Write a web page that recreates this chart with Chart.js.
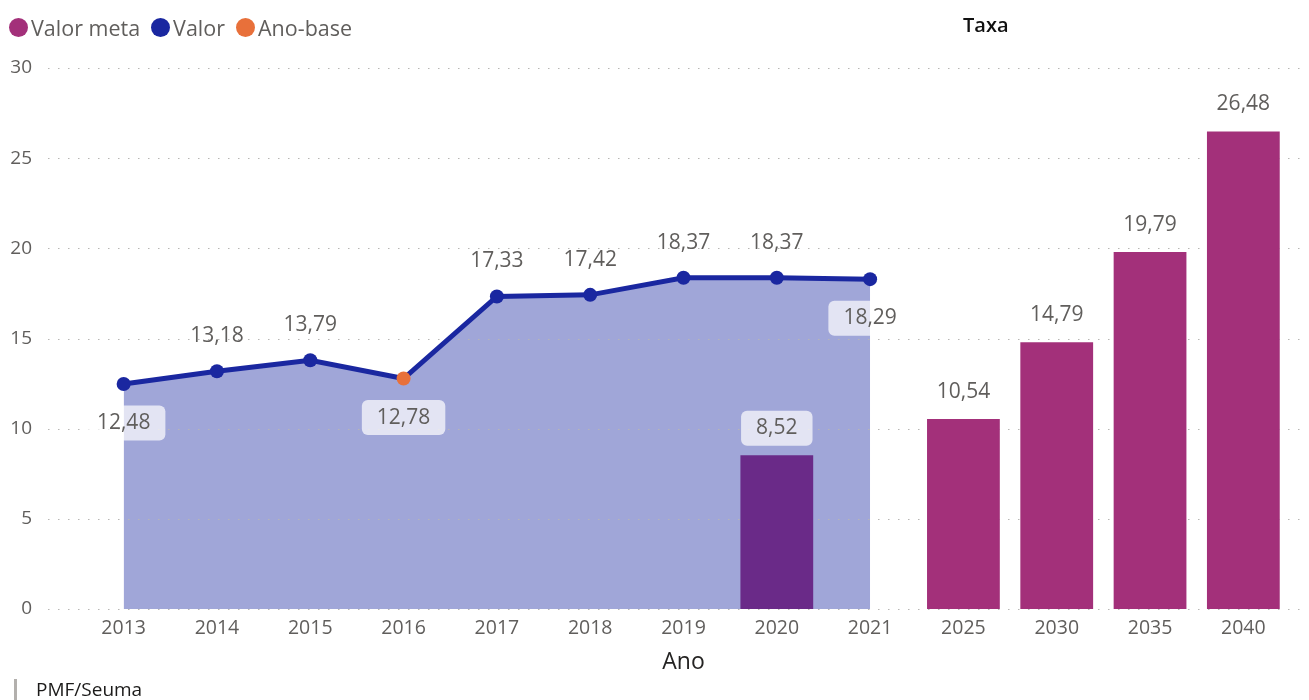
<!DOCTYPE html>
<html>
<head>
<meta charset="utf-8">
<script src="https://cdn.jsdelivr.net/npm/chart.js@4.4.0/dist/chart.umd.min.js"></script>
<style>
  body { margin: 0; background: #fff; font-family: "Open Sans", sans-serif; }
  #wrap { position: relative; width: 1309px; height: 700px; overflow: hidden; }
  #chart { position: absolute; left: 0; top: 0; }
  .legend { position: absolute; left: 9px; top: 13px; font-size: 21.5px; color: #605e5c; display: flex; align-items: center; }
  .legend span.dot { display: inline-block; width: 19px; height: 19px; border-radius: 50%; margin-right: 3px; }
  .legend span.item { margin-right: 11px; display: flex; align-items: center; }
  .title { position: absolute; left: 963px; top: 11px; font-size: 20px; color: #111; font-weight: 600; }
  .footer { position: absolute; left: 14px; top: 679px; height: 21px; border-left: 3px solid #b3b0ad; padding-left: 19px; font-size: 19px; color: #1b1a19; font-weight: 500; line-height: 21px; }
</style>
</head>
<body>
<div id="wrap">
  <canvas id="chart" width="1309" height="700"></canvas>
  <div class="legend">
    <span class="item"><span class="dot" style="background:#a3307a"></span>Valor meta</span>
    <span class="item"><span class="dot" style="background:#1a27a0"></span>Valor</span>
    <span class="item"><span class="dot" style="background:#e8703a"></span>Ano-base</span>
  </div>
  <div class="title">Taxa</div>
  <div class="footer">PMF/Seuma</div>
</div>
<script>
const anos = ["2013", "2014", "2015", "2016", "2017", "2018", "2019", "2020", "2021", "2025", "2030", "2035", "2040"];
const valor = [12.48, 13.18, 13.79, 12.78, 17.33, 17.42, 18.37, 18.37, 18.29, null, null, null, null];
const valorMeta = [null, null, null, null, null, null, null, 8.52, null, 10.54, 14.79, 19.79, 26.48];
const anoBase = "2016";
const yTicks = [0, 5, 10, 15, 20, 25, 30];

const blue = "#1a27a0";
const orange = "#e8703a";
const magenta = "#a3307a";
const purple = "#6a2a88";

function fmt(v) {
  return v.toFixed(2).replace(".", ",");
}

// dotted gridlines running the full width, like the original
const gridPlugin = {
  id: "dotGrid",
  beforeDatasetsDraw(chart) {
    const ctx = chart.ctx;
    const y = chart.scales.y;
    ctx.save();
    ctx.strokeStyle = "#b8b6b4";
    ctx.lineWidth = 1.2;
    ctx.setLineDash([1.5, 8.5]);
    yTicks.forEach(v => {
      const py = Math.round(y.getPixelForValue(v)) + 0.5;
      ctx.beginPath();
      ctx.moveTo(48, py);
      ctx.lineTo(1305, py);
      ctx.stroke();
    });
    ctx.restore();
  }
};

// labels under the point with a pale box: 2013, 2016, 2021
const labelBelow = ["2013", "2016", "2021"];

function drawLabel(ctx, text, x, y, boxed) {
  ctx.font = "21px 'Open Sans', sans-serif";
  ctx.textAlign = "center";
  ctx.textBaseline = "middle";
  if (boxed) {
    const w = ctx.measureText(text).width + 30;
    const h = 35;
    ctx.fillStyle = "rgba(255,255,255,0.7)";
    ctx.beginPath();
    ctx.roundRect(x - w / 2, y - h / 2, w, h, 6);
    ctx.fill();
  }
  ctx.fillStyle = "#605e5c";
  ctx.fillText(text, x, y);
}

const labelPlugin = {
  id: "valueLabels",
  afterDatasetsDraw(chart) {
    const ctx = chart.ctx;
    ctx.save();
    chart.getDatasetMeta(0).data.forEach((el, i) => {
      const v = valor[i];
      if (v == null) return;
      if (labelBelow.includes(anos[i])) drawLabel(ctx, fmt(v), el.x, el.y + 39, true);
      else drawLabel(ctx, fmt(v), el.x, el.y - 35, false);
    });
    chart.getDatasetMeta(1).data.forEach((el, i) => {
      const v = valorMeta[i];
      if (v == null) return;
      drawLabel(ctx, fmt(v), el.x, el.y - 27, valor[i] != null);
    });
    ctx.restore();
  }
};

new Chart(document.getElementById("chart"), {
  data: {
    labels: anos,
    datasets: [
      {
        type: "line",
        label: "Valor",
        data: valor,
        order: 0,
        borderColor: blue,
        borderWidth: 5,
        backgroundColor: "#a0a6d8",
        fill: "origin",
        tension: 0,
        pointRadius: 7,
        pointHoverRadius: 7,
        pointBorderWidth: 0,
        pointBackgroundColor: anos.map(a => a === anoBase ? orange : blue),
        spanGaps: false
      },
      {
        type: "bar",
        label: "Valor meta",
        data: valorMeta,
        order: 1,
        backgroundColor: anos.map((a, i) => valor[i] != null ? purple : magenta),
        categoryPercentage: 1,
        barPercentage: 0.78
      }
    ]
  },
  options: {
    responsive: false,
    animation: false,
    layout: { padding: { left: 10, right: 19, top: 68, bottom: 24 } },
    plugins: {
      legend: { display: false },
      tooltip: { enabled: false },
      filler: { drawTime: "beforeDatasetsDraw" }
    },
    scales: {
      x: {
        offset: true,
        grid: { display: false, drawTicks: false },
        border: { display: false },
        ticks: { color: "#605e5c", font: { family: "'Open Sans', sans-serif", size: 19.5 }, padding: 8, maxRotation: 0 },
        title: { display: true, text: "Ano", color: "#252423", font: { family: "'Open Sans', sans-serif", size: 23 }, padding: { top: 0, bottom: 0 } }
      },
      y: {
        min: 0,
        max: 30,
        afterBuildTicks(axis) { axis.ticks = yTicks.map(v => ({ value: v })); },
        afterFit(axis) { axis.width = 67; },
        grid: { display: false, drawTicks: false },
        border: { display: false },
        ticks: { color: "#605e5c", font: { family: "'Open Sans', sans-serif", size: 19 }, padding: 45 }
      }
    }
  },
  plugins: [gridPlugin, labelPlugin]
});
</script>
</body>
</html>
